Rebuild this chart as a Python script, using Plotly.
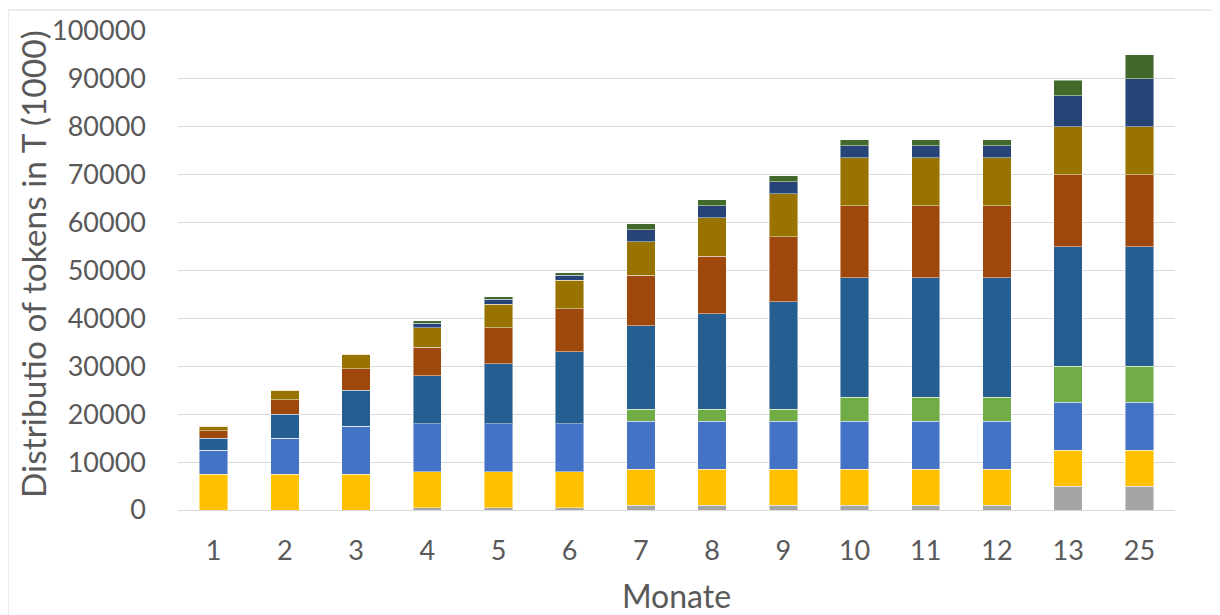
import plotly.graph_objects as go

categories = ["1", "2", "3", "4", "5", "6", "7", "8", "9", "10", "11", "12", "13", "25"]

s_grey = [0, 0, 0, 500, 500, 500, 1000, 1000, 1000, 1000, 1000, 1000, 5000, 5000]
s_yellow = [7500] * 14
s_blue = [5000, 7500, 10000, 10000, 10000, 10000, 10000, 10000, 10000, 10000, 10000, 10000, 10000, 10000]
s_green = [0, 0, 0, 0, 0, 0, 2500, 2500, 2500, 5000, 5000, 5000, 7500, 7500]
s_darkblue = [2500, 5000, 7500, 10000, 12500, 15000, 17500, 20000, 22500, 25000, 25000, 25000, 25000, 25000]
s_orange = [1500, 3000, 4500, 6000, 7500, 9000, 10500, 12000, 13500, 15000, 15000, 15000, 15000, 15000]
s_darkyellow = [1000, 2000, 3000, 4000, 5000, 6000, 7000, 8000, 9000, 10000, 10000, 10000, 10000, 10000]
s_navy = [0, 0, 0, 1000, 1000, 1000, 2500, 2500, 2500, 2500, 2500, 2500, 6500, 10000]
s_darkgreen = [0, 0, 0, 500, 500, 500, 1250, 1250, 1250, 1250, 1250, 1250, 3250, 5000]

y_title = "Distributio of tokens in T (1000)"
x_title = "Monate"

series = [
    ("S1", s_grey, "#A5A5A5"),
    ("S2", s_yellow, "#FFC000"),
    ("S3", s_blue, "#4472C4"),
    ("S4", s_green, "#70AD47"),
    ("S5", s_darkblue, "#255E91"),
    ("S6", s_orange, "#9E480E"),
    ("S7", s_darkyellow, "#997300"),
    ("S8", s_navy, "#264478"),
    ("S9", s_darkgreen, "#43682B"),
]

fig = go.Figure()
for name, vals, col in series:
    fig.add_trace(go.Bar(
        x=categories, y=vals, name=name,
        marker=dict(color=col, line=dict(color="rgba(255,255,255,0.45)", width=1)),
        showlegend=False,
    ))

FONT = "Lato, Calibri, Carlito, sans-serif"
TXT = "#595959"

fig.update_layout(
    barmode="stack",
    bargap=0.6,
    width=1212, height=607,
    margin=dict(l=170, r=45, t=23, b=105),
    paper_bgcolor="white",
    plot_bgcolor="white",
    font=dict(family=FONT, color=TXT, size=27),
    xaxis=dict(
        type="category", automargin=False,
        title=dict(text=x_title, font=dict(size=32, color=TXT), standoff=21),
        tickfont=dict(size=27, color=TXT),
        showgrid=False, showline=False, ticks="",
        zeroline=False, ticklabelstandoff=22,
    ),
    yaxis=dict(
        automargin=False,
        range=[0, 100000], dtick=10000,
        tickformat="d",
        tickfont=dict(size=27, color=TXT),
        showgrid=True, gridcolor="#D9D9D9", gridwidth=1.3,
        zeroline=True, zerolinecolor="#D9D9D9", zerolinewidth=1.3,
        ticks="", ticklabelstandoff=31,
    ),
    annotations=[dict(
        text=y_title, xref="paper", yref="paper",
        x=-0.1454, y=0.5136, xanchor="center", yanchor="middle",
        textangle=-90, showarrow=False,
        font=dict(size=33.5, color=TXT, family=FONT),
    )],
    shapes=[dict(
        type="rect", xref="paper", yref="paper",
        x0=-0.1705, x1=1.041, y0=-0.25, y1=1.0438,
        line=dict(color="#D9D9D9", width=1), layer="below",
    )],
)

fig.write_html("out.html")
